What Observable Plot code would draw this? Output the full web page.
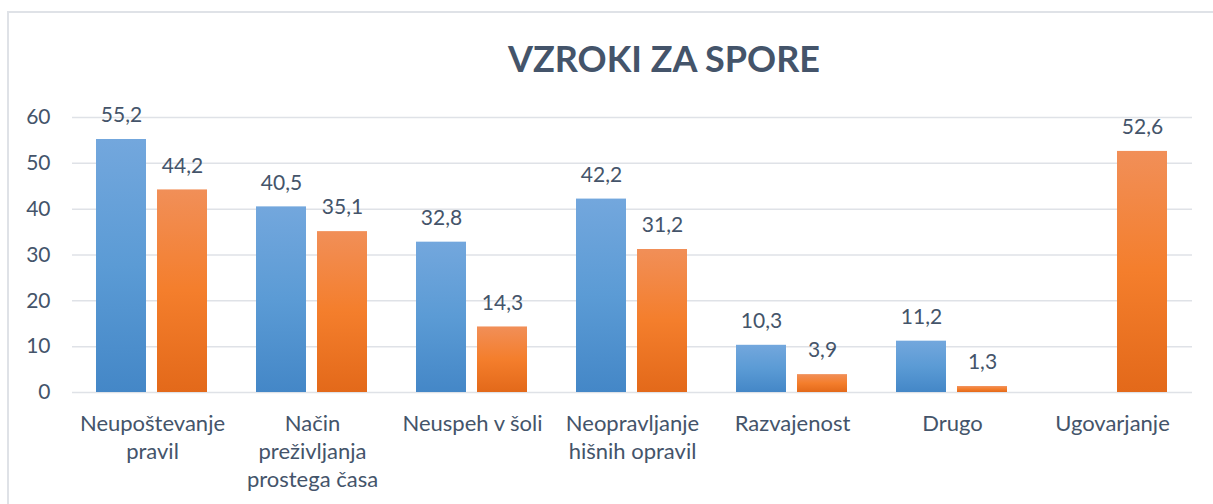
<!DOCTYPE html>
<html>
<head>
<meta charset="utf-8">
<script src="https://cdn.jsdelivr.net/npm/d3@7"></script>
<script src="https://cdn.jsdelivr.net/npm/@observablehq/plot@0.6"></script>
<style>
  html, body { margin: 0; padding: 0; background: #fff; }
  #wrap { position: relative; width: 1213px; height: 504px; overflow: hidden; font-family: Lato, "Open Sans", sans-serif; }
  #frame { position: absolute; left: 7px; top: 11px; width: 1400px; height: 600px; border-left: 2px solid #dfe2e7; border-top: 2px solid #dfe2e7; box-sizing: border-box; }
  #title { position: absolute; left: 0; width: 1328px; top: 36px; text-align: center; font-size: 36px; font-weight: bold; color: #44546a; }
  #chart { position: absolute; left: 0; top: 0; }
</style>
</head>
<body>
<div id="wrap">
  <div id="frame"></div>
  <div id="title">VZROKI ZA SPORE</div>
  <div id="chart"></div>
</div>
<script>
const categories = ["Neupoštevanje pravil", "Način preživljanja prostega časa", "Neuspeh v šoli", "Neopravljanje hišnih opravil", "Razvajenost", "Drugo", "Ugovarjanje"];
const tickLabels = ["Neupoštevanje\npravil", "Način\npreživljanja\nprostega časa", "Neuspeh v šoli", "Neopravljanje\nhišnih opravil", "Razvajenost", "Drugo", "Ugovarjanje"];
const seriesNames = ["Serija 1", "Serija 2"];
const series1 = [55.2, 40.5, 32.8, 42.2, 10.3, 11.2, null];
const series2 = [44.2, 35.1, 14.3, 31.2, 3.9, 1.3, 52.6];
const yTicks = [0, 10, 20, 30, 40, 50, 60];

const data = [];
categories.forEach((c, i) => {
  if (series1[i] != null) data.push({cat: c, s: seriesNames[0], v: series1[i]});
  if (series2[i] != null) data.push({cat: c, s: seriesNames[1], v: series2[i]});
});
const labelOf = Object.fromEntries(categories.map((c, i) => [c, tickLabels[i]]));
const fmt = v => v.toFixed(1).replace(".", ",");
const textColor = "#44546a";

const plot = Plot.plot({
  width: 1213,
  height: 504,
  marginLeft: 71,
  marginRight: 20,
  marginTop: 117,
  marginBottom: 112,
  style: {fontFamily: "Lato, 'Open Sans', sans-serif", fontSize: "21px", color: textColor, background: "transparent", overflow: "visible"},
  fx: {domain: categories, padding: 0, label: null},
  x: {domain: seriesNames, paddingInner: 0.177, paddingOuter: 0.379, axis: null},
  y: {domain: [0, 60], label: null},
  marks: [
    Plot.ruleY(yTicks, {stroke: "#dfe2e7", strokeWidth: 1.5}),
    Plot.axisY({ticks: yTicks, tickSize: 0, tickPadding: 22, fontSize: 21, fill: textColor, label: null}),
    Plot.axisFx({anchor: "bottom", tickFormat: d => labelOf[d], tickSize: 0, tickPadding: 18, fontSize: 22, lineHeight: 1.28, fill: textColor, label: null}),
    Plot.barY(data, {fx: "cat", x: "s", y: "v", fill: d => d.s === seriesNames[0] ? "url(#gBlue)" : "url(#gOrange)"}),
    Plot.text(data, {fx: "cat", x: "s", y: "v", text: d => fmt(d.v), dy: -24, fill: textColor, fontSize: 21})
  ]
});

const svg = d3.select(plot);
const defs = svg.insert("defs", ":first-child");
const gb = defs.append("linearGradient").attr("id", "gBlue").attr("x1", 0).attr("y1", 0).attr("x2", 0).attr("y2", 1);
gb.append("stop").attr("offset", "0%").attr("stop-color", "#73a7dd");
gb.append("stop").attr("offset", "50%").attr("stop-color", "#5b9bd5");
gb.append("stop").attr("offset", "100%").attr("stop-color", "#4487c7");
const go = defs.append("linearGradient").attr("id", "gOrange").attr("x1", 0).attr("y1", 0).attr("x2", 0).attr("y2", 1);
go.append("stop").attr("offset", "0%").attr("stop-color", "#f18f58");
go.append("stop").attr("offset", "50%").attr("stop-color", "#f47e2c");
go.append("stop").attr("offset", "100%").attr("stop-color", "#e3691a");

document.getElementById("chart").appendChild(plot);
</script>
</body>
</html>
